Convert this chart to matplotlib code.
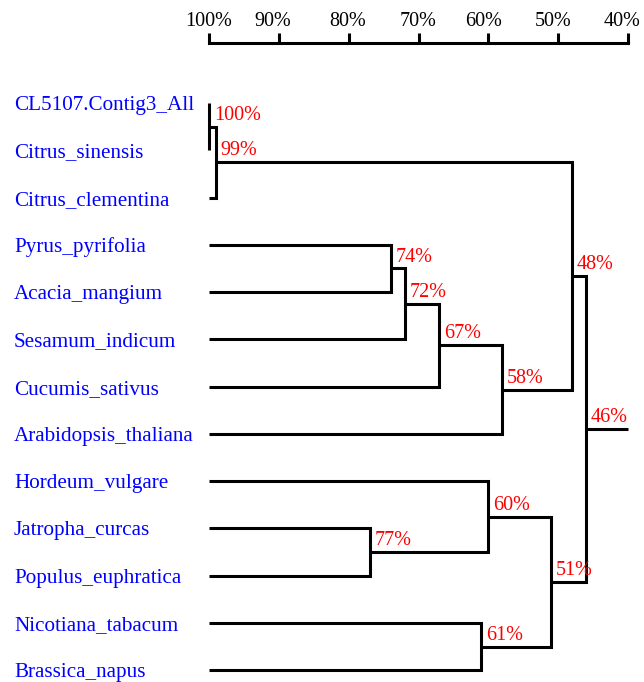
import matplotlib
matplotlib.use("Agg")
import matplotlib.pyplot as plt
from matplotlib import transforms

plt.rcParams["font.family"] = ["Liberation Serif", "DejaVu Serif"]

# Leaves, top to bottom
leaves = [
    "CL5107.Contig3_All", "Citrus_sinensis", "Citrus_clementina",
    "Pyrus_pyrifolia", "Acacia_mangium", "Sesamum_indicum",
    "Cucumis_sativus", "Arabidopsis_thaliana", "Hordeum_vulgare",
    "Jatropha_curcas", "Populus_euphratica", "Nicotiana_tabacum",
    "Brassica_napus",
]

# Merges: node ids 0..12 are leaves, each merge creates node 13, 14, ...
merge_left = [0, 13, 3, 15, 16, 17, 14, 9, 8, 11, 21, 19]
merge_right = [1, 2, 4, 5, 6, 7, 18, 10, 20, 12, 22, 23]
merge_similarity = [100, 99, 74, 72, 67, 58, 48, 77, 60, 61, 51, 46]

axis_ticks = [100, 90, 80, 70, 60, 50, 40]
root_end = 40

BLACK = "#000000"
LW = 2.2

fig = plt.figure(figsize=(6.44, 6.82), dpi=100)
ax = fig.add_axes([209 / 644, 0.0, 419 / 644, 1 - 43 / 682])
ax.set_xlim(100, 40)
ax.set_ylim(12.25, -1.27)

# node positions
pos_x = {i: 100.0 for i in range(len(leaves))}
pos_y = {i: float(i) for i in range(len(leaves))}

for k, (a, b, s) in enumerate(zip(merge_left, merge_right, merge_similarity)):
    nid = len(leaves) + k
    pos_x[nid] = s
    pos_y[nid] = (pos_y[a] + pos_y[b]) / 2
    ax.plot([pos_x[a], s, s, pos_x[b]], [pos_y[a], pos_y[a], pos_y[b], pos_y[b]],
            color=BLACK, lw=LW, solid_joinstyle="miter", solid_capstyle="butt",
            clip_on=False)
    ax.annotate(f"{s}%", xy=(s, pos_y[nid]), xytext=(3.5, 5),
                textcoords="offset points", ha="left", va="baseline",
                color="#ff0000", fontsize=14.5)

root = len(leaves) + len(merge_similarity) - 1
ax.plot([pos_x[root], root_end], [pos_y[root], pos_y[root]], color=BLACK, lw=LW,
        solid_capstyle="butt", clip_on=False)

# leaf names
trans = transforms.blended_transform_factory(fig.transFigure, ax.transData)
for i, name in enumerate(leaves):
    ax.text(14 / 644, i + 0.15, name, transform=trans, ha="left", va="baseline",
            color="#0000ff", fontsize=15.2)

# similarity scale on top
for side in ["left", "right", "bottom"]:
    ax.spines[side].set_visible(False)
ax.spines["top"].set_linewidth(LW)
ax.spines["top"].set_capstyle("projecting")
ax.xaxis.tick_top()
ax.set_xticks(axis_ticks)
ax.set_xticklabels([f"{t}%" for t in axis_ticks])
ax.tick_params(axis="x", direction="out", length=7, width=LW, pad=2,
               labelsize=14.5, colors=BLACK)
ax.set_yticks([])
ax.patch.set_alpha(0)

# small horizontal nudges of the scale labels (pixels)
label_shift = [0, -6, -1, 0, -5, -5, -6]
for lab, dx in zip(ax.get_xticklabels(), label_shift):
    lab.set_transform(lab.get_transform() +
                      transforms.ScaledTranslation(dx / 100, 0, fig.dpi_scale_trans))

fig.savefig("out.png", dpi=100)
